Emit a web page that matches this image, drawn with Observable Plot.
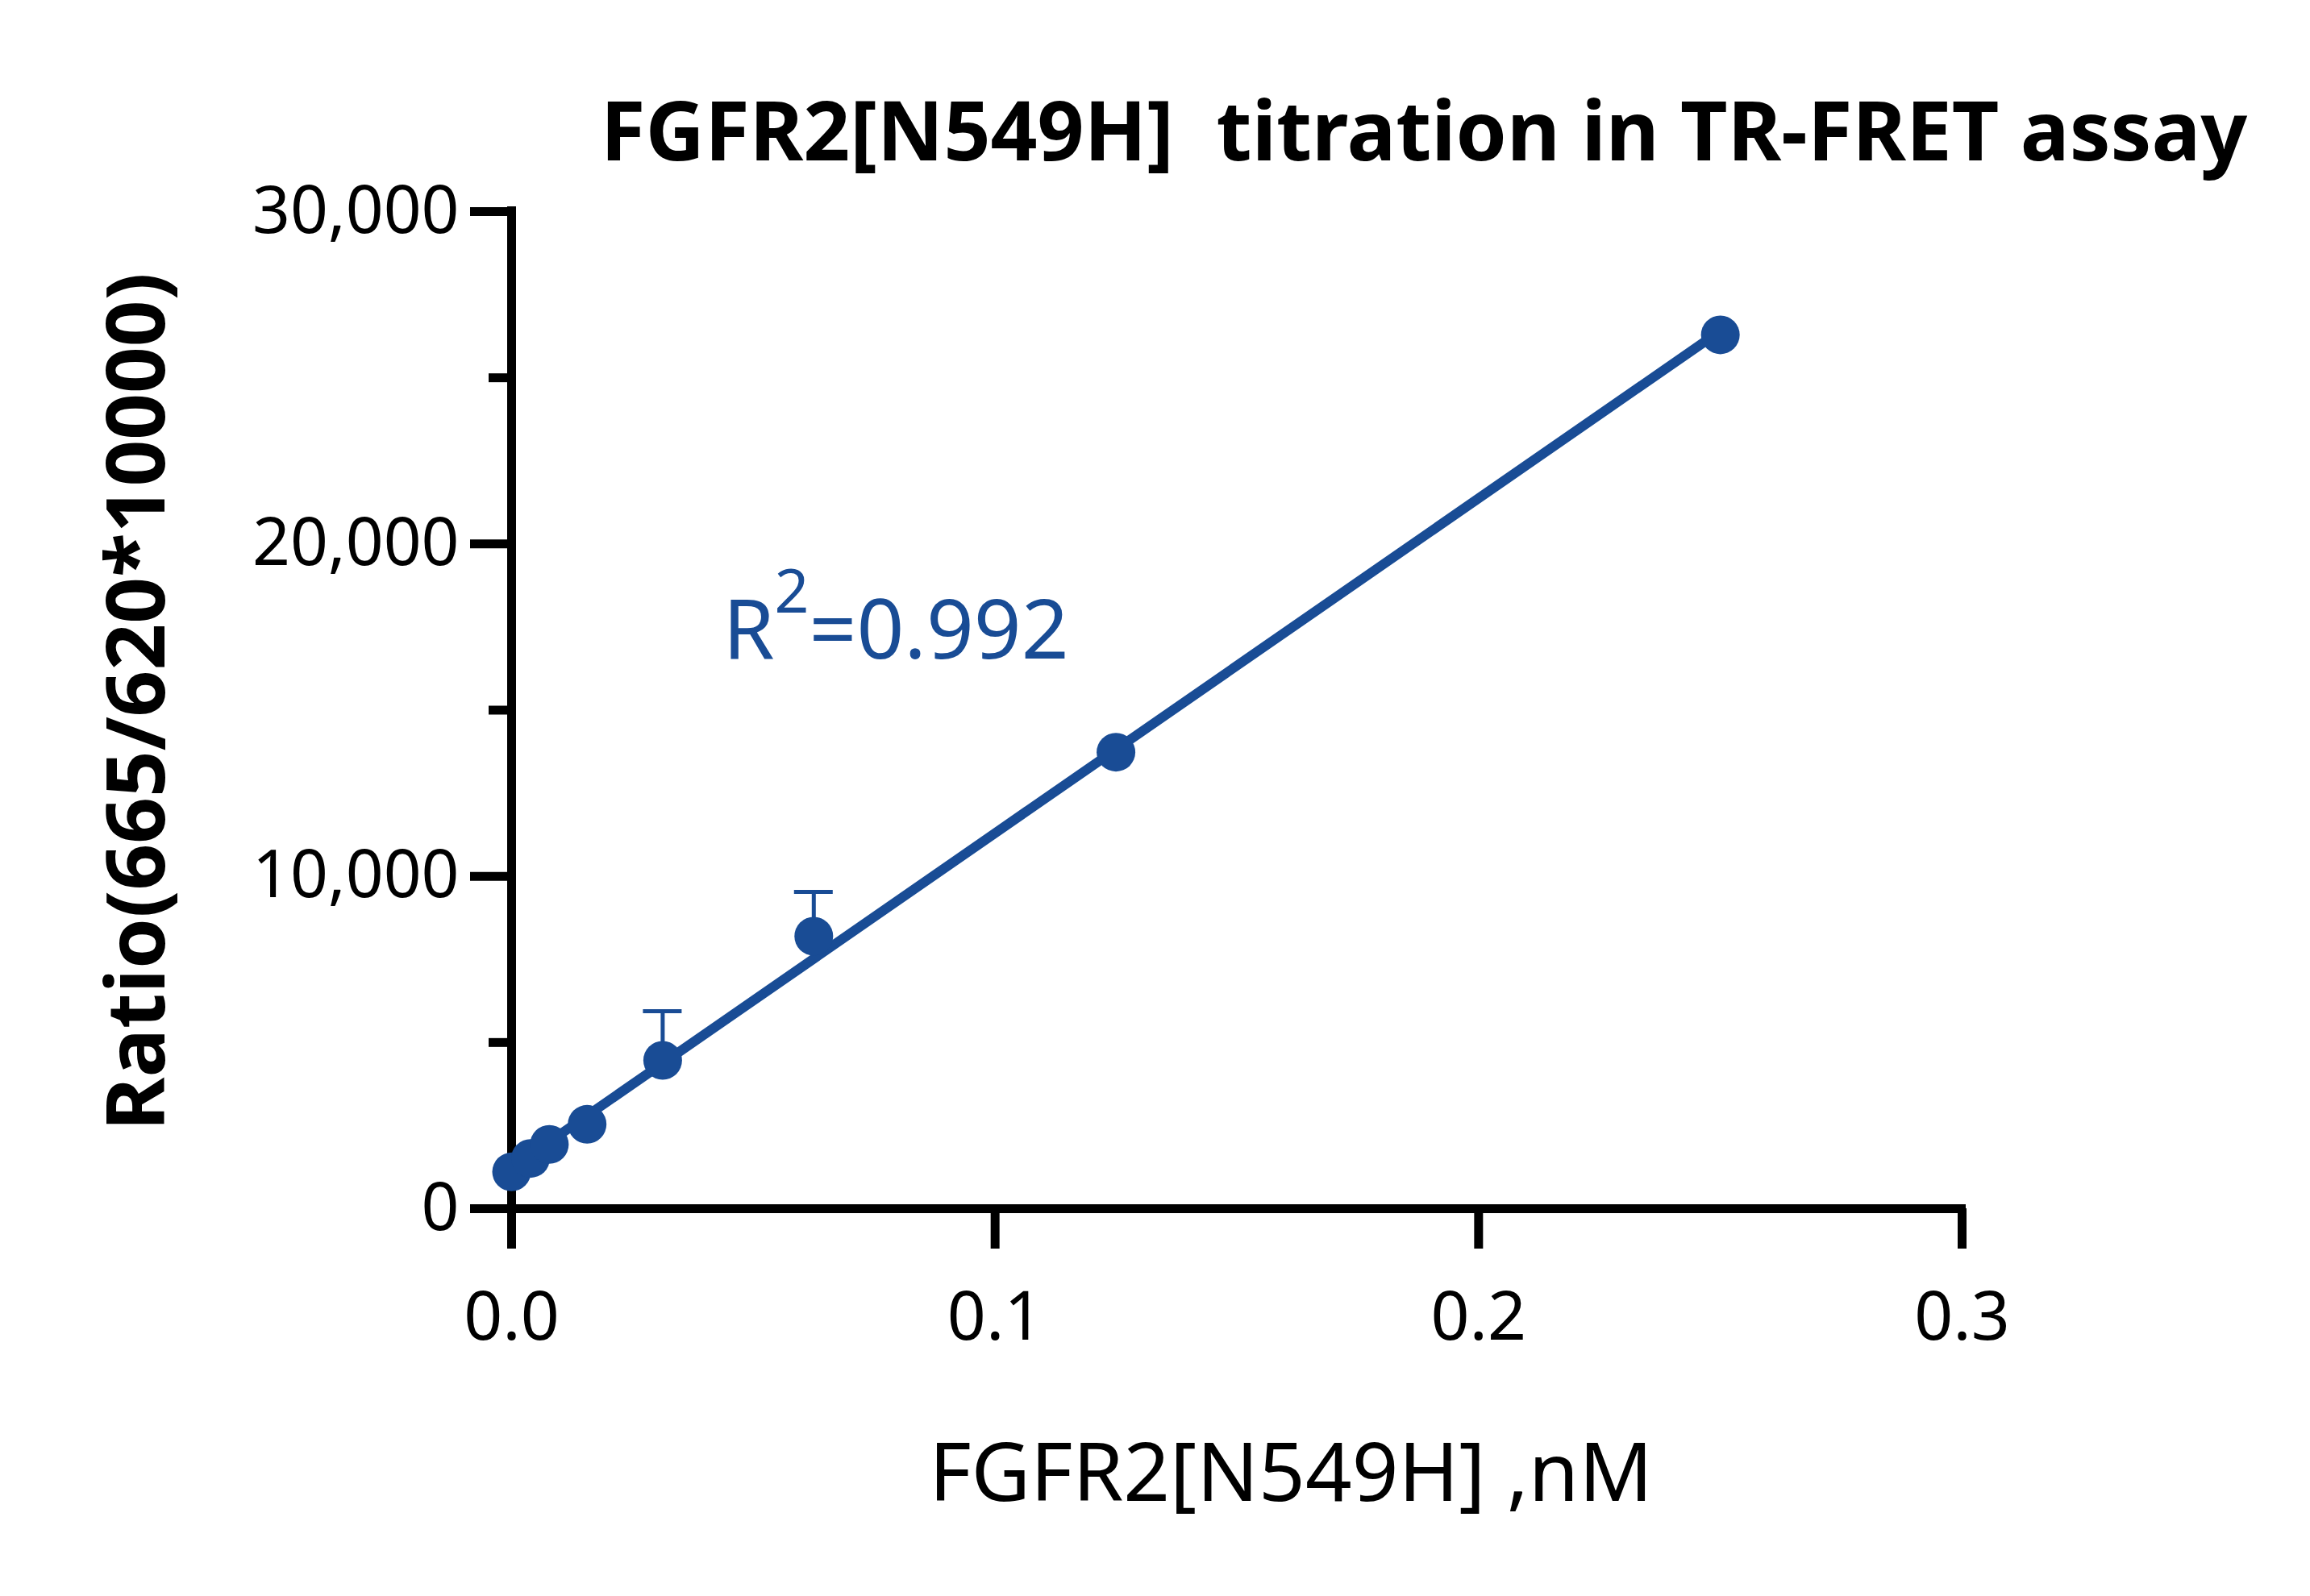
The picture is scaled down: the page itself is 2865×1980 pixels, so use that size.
<!DOCTYPE html>
<html><head><meta charset="utf-8">
<script src="https://cdn.jsdelivr.net/npm/d3@7"></script>
<script src="https://cdn.jsdelivr.net/npm/@observablehq/plot@0.6"></script>
<style>
body{margin:0;background:#fff}
svg text{white-space:pre}
</style>
</head><body><div id="chart"></div>
<script>
const concentration = [0, 0.00390625, 0.0078125, 0.015625, 0.03125, 0.0625, 0.125, 0.25];
const ratio = [1108, 1511, 1933, 2539, 4463, 8198, 13735, 26292];
const errorUp = [0, 0, 0, 0, 1479, 1334, 0, 0];
const xTicks = [0, 0.1, 0.2, 0.3];
const yTicks = [0, 10000, 20000, 30000];
const yMinorTicks = [5000, 15000, 25000];
const titleText = "FGFR2[N549H]  titration in TR-FRET assay";
const xLabel = "FGFR2[N549H] ,nM";
const yLabel = "Ratio(665/620*10000)";
const rSquared = [0.992];

const blue = "#194c95";
const data = concentration.map((x, i) => ({x, y: ratio[i], err: errorUp[i]}));
const errData = data.filter(d => d.err > 0);

const chart = Plot.plot({
  width: 2865, height: 1980,
  marginLeft: 634, marginRight: 432, marginTop: 262, marginBottom: 481,
  style: {fontFamily: "Noto Sans", background: "white", color: "black"},
  x: {domain: [0, 0.3]},
  y: {domain: [0, 30000]},
  marks: [
    Plot.axisY(yTicks, {tickSize: 51, tickPadding: 14, strokeWidth: 11, fontSize: 82, tickFormat: d3.format(","), label: null}),
    Plot.axisY(yMinorTicks, {tickSize: 28, strokeWidth: 11, text: null, label: null}),
    Plot.axisX(xTicks, {tickSize: 50, tickPadding: 53, strokeWidth: 11, fontSize: 84, tickFormat: d3.format(".1f"), label: null}),
    Plot.ruleX([0], {insetTop: -6, strokeWidth: 11}),
    Plot.ruleY([0], {insetRight: -5, strokeWidth: 11}),
    Plot.ruleX(errData, {x: "x", y1: "y", y2: d => d.y + d.err, stroke: blue, strokeWidth: 5}),
    Plot.ruleY(errData, {x1: "x", x2: "x", y: d => d.y + d.err, insetLeft: -24, insetRight: -24, stroke: blue, strokeWidth: 5}),
    Plot.linearRegressionY(data, {x: "x", y: "y", stroke: blue, strokeWidth: 12, ci: 0}),
    Plot.dot(data, {x: "x", y: "y", r: 24, fill: blue}),
    Plot.text([titleText], {frameAnchor: "top", dx: 232, dy: -63.5, lineAnchor: "bottom", fontSize: 101.5, fontWeight: "bold", fill: "black"}),
    Plot.text([xLabel], {frameAnchor: "bottom", dx: 67, dy: 362, lineAnchor: "bottom", fontSize: 101, fill: "black"}),
    Plot.text([yLabel], {frameAnchor: "left", textAnchor: "middle", rotate: -90, dx: -431, dy: -10.5, lineAnchor: "bottom", fontSize: 101, fontWeight: "bold", fill: "black"}),
    Plot.text(rSquared, {frameAnchor: "top-left", textAnchor: "start", dx: 262, dy: 554, lineAnchor: "bottom", fontSize: 103, fill: blue, text: d => "R2=" + d.toFixed(3)})
  ]
});

// superscript for R²
d3.select(chart).selectAll("text").each(function() {
  const t = d3.select(this);
  if (t.selectAll("tspan").empty() && this.textContent === "R2=" + rSquared[0].toFixed(3)) {
    t.text("R");
    t.append("tspan").attr("font-size", 75).attr("dy", -57).text("2");
    t.append("tspan").attr("dy", 57).text("=" + rSquared[0].toFixed(3));
  }
});

document.getElementById("chart").appendChild(chart);
</script>
</body></html>
